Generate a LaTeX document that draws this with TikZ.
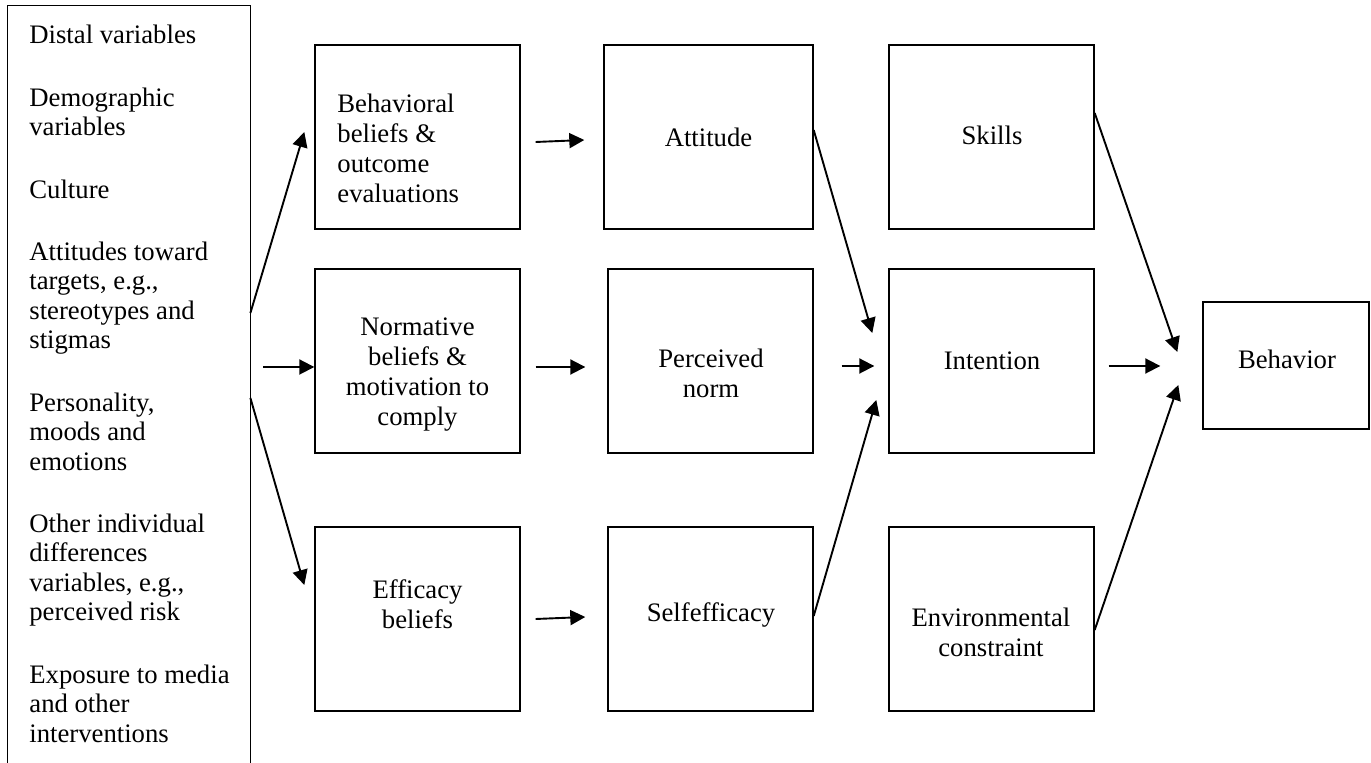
\documentclass[tikz,border=0pt]{standalone}
\usepackage{fontspec}
\setmainfont{Liberation Serif}
\usetikzlibrary{arrows.meta}
\tikzset{
  box/.style={draw, line width=0.7pt, minimum width=102.5pt, minimum height=92pt, inner sep=0pt},
  txt/.style={align=center, font=\fontsize{13.35}{15}\selectfont, inner sep=0pt},
  ar/.style={-{Triangle[length=7.5pt, width=7.5pt]}, line width=0.95pt}
}
\begin{document}
\begin{tikzpicture}[x=0.5pt, y=-0.5pt]
  \useasboundingbox (0,0) rectangle (1371,763);
  % distal variables (box runs off the page)
  \node[minimum width=121pt, minimum height=382pt, inner sep=0pt] (dist) at (129,388) {};
  \draw[line width=0.7pt] (dist.south west) |- (dist.north east) -- (dist.south east);
  \node[txt, align=left, anchor=north west, font=\fontsize{13.35}{14.75}\selectfont] (dist-t) at (29,25) {%
    Distal variables\\[16.4pt]
    Demographic\\variables\\[16.4pt]
    Culture\\[16.4pt]
    Attitudes toward\\targets, e.g.,\\stereotypes and\\stigmas\\[16.4pt]
    Personality,\\moods and\\emotions\\[16.4pt]
    Other individual\\differences\\variables, e.g.,\\perceived risk\\[16.4pt]
    Exposure to media\\and other\\interventions};

  % boxes
  \foreach \nm/\x/\y in {beh/417.5/137, norm/417.5/361, eff/417.5/619,
                         pnorm/710.5/361, self/710.5/619,
                         skills/991.5/137, intent/991.5/361, env/991.5/619}
    \node[box] (\nm) at (\x,\y) {};
  \node[box, minimum width=104.5pt] (att) at (708.5,137) {};
  \node[box, minimum width=83pt, minimum height=63.5pt] (behav) at (1286,365.5) {};

  \node[txt, align=left, anchor=west] (beh-t) at (337,148) {Behavioral\\beliefs \&\\outcome\\evaluations};
  \node[txt] (norm-t) at (417.5,375) {Normative\\beliefs \&\\motivation to\\comply};
  \node[txt] (eff-t) at (417.5,604) {Efficacy\\beliefs};
  \node[txt] (att-t) at (708.5,137) {Attitude};
  \node[txt] (pnorm-t) at (711,373) {Perceived\\norm};
  \node[txt] (self-t) at (711,615) {Selfefficacy};
  \node[txt] (skills-t) at (992,135) {Skills};
  \node[txt] (intent-t) at (992,361) {Intention};
  \node[txt] (env-t) at (991,632) {Environmental\\constraint};
  \node[txt] (behav-t) at (1287,359) {Behavior};

  % arrows
  \draw[ar] ([yshift=37.5pt]dist.east) -- ([xshift=-5pt,yshift=2.5pt]beh.west);
  \draw[ar] ([xshift=6.5pt,yshift=10.5pt]dist.east) -- ([yshift=-3pt]norm.west);
  \draw[ar] ([yshift=-5pt]dist.east) -- ([xshift=-5pt,yshift=17pt]eff.west);
  \draw[ar] ([xshift=7.5pt,yshift=-2.5pt]beh.east) -- ([xshift=-9.5pt,yshift=-1.5pt]att.west);
  \draw[ar] ([xshift=7.5pt,yshift=-3pt]norm.east) -- ([xshift=-11pt,yshift=-3pt]pnorm.west);
  \draw[ar] ([xshift=7.5pt]eff.east) -- ([xshift=-11pt,yshift=1pt]self.west);
  \draw[ar] ([yshift=3.5pt]att.east) -- ([xshift=-8pt,yshift=14pt]intent.west);
  \draw[ar] ([xshift=14pt,yshift=-2.5pt]pnorm.east) -- ([xshift=-7pt,yshift=-2.5pt]intent.west);
  \draw[ar] ([yshift=1.5pt]self.east) -- ([xshift=-6pt,yshift=-19.5pt]intent.west);
  \draw[ar] ([yshift=12pt]skills.east) -- ([xshift=-12.5pt,yshift=6.75pt]behav.west);
  \draw[ar] ([xshift=7pt,yshift=-2.5pt]intent.east) -- ([xshift=-21pt,yshift=-0.25pt]behav.west);
  \draw[ar] ([yshift=-5.5pt]env.east) -- ([xshift=-12pt,yshift=-9.75pt]behav.west);
\end{tikzpicture}
\end{document}
